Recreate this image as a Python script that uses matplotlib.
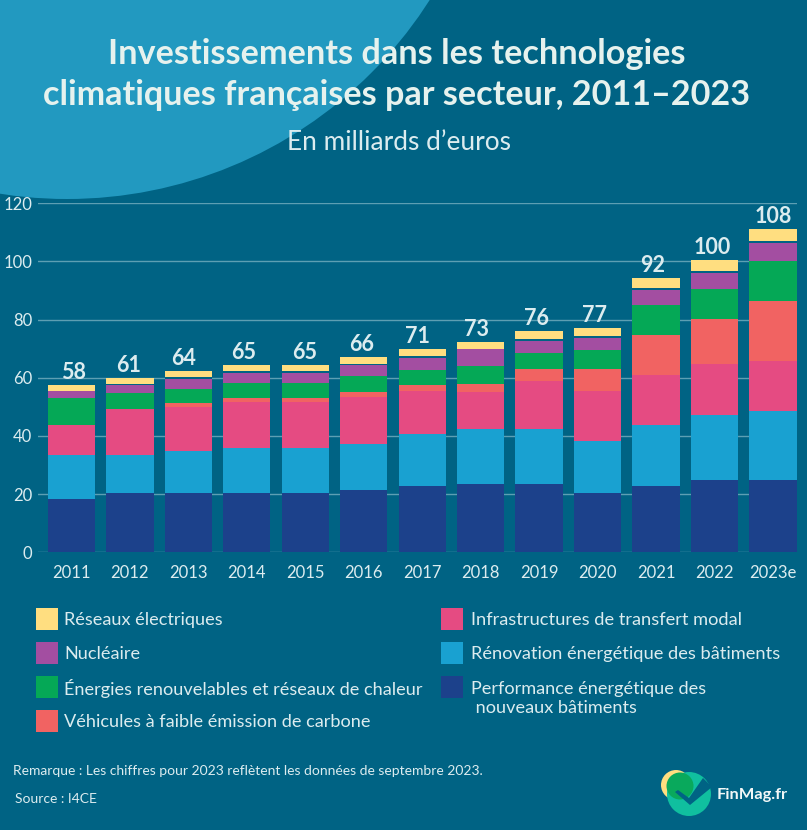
#!/usr/bin/python3
# filename plot.py
import matplotlib
matplotlib.use('Agg')
import matplotlib.pyplot as plt
from matplotlib.patches import Circle, Rectangle, Polygon
import numpy as np

plt.rcParams['font.family'] = ['Lato', 'DejaVu Sans']

annees = ['2011', '2012', '2013', '2014', '2015', '2016', '2017', '2018', '2019', '2020', '2021', '2022', '2023e']
totaux = [58, 61, 64, 65, 65, 66, 71, 73, 76, 77, 92, 100, 108]

# Valeurs en milliards d'euros
performance = [18.3, 20.5, 20.5, 20.5, 20.5, 21.5, 22.9, 23.6, 23.6, 20.5, 22.9, 25.0, 25.0]
renovation = [15.2, 13.0, 14.2, 15.5, 15.5, 15.9, 17.9, 18.7, 18.7, 17.8, 20.7, 22.1, 23.5]
transfert = [10.2, 15.8, 15.3, 15.8, 15.8, 16.1, 14.7, 12.9, 16.5, 17.2, 17.5, 17.8, 17.3]
vehicules = [0.0, 0.0, 1.2, 1.2, 1.2, 1.7, 1.9, 2.8, 4.1, 7.4, 13.5, 15.4, 20.7]
renouvelables = [9.3, 5.4, 5.0, 5.1, 5.1, 5.4, 5.4, 6.2, 5.5, 6.6, 10.3, 10.1, 13.7]
nucleaire = [2.4, 2.8, 3.4, 3.7, 3.7, 3.8, 4.1, 5.6, 4.4, 4.3, 5.3, 5.6, 6.3]
ecart = [0.0, 0.4, 0.7, 0.4, 0.4, 0.4, 0.6, 0.1, 0.6, 0.5, 0.7, 0.8, 0.7]
reseaux = [2.0, 2.0, 2.0, 2.3, 2.3, 2.4, 2.4, 2.5, 2.6, 2.7, 3.3, 3.6, 3.8]

fond = '#006384'
texte = '#dcecef'
c_perf = '#1c418b'
c_reno = '#19a1d1'
c_transfert = '#e54b82'
c_vehicules = '#f16362'
c_renouv = '#05a856'
c_nucleaire = '#a34ea1'
c_reseaux = '#ffde80'

W, H = 807, 830
fig = plt.figure(figsize=(W / 100, H / 100), dpi=100, facecolor=fond)

# calque en pixels pour le fond, la legende et le logo
bg = fig.add_axes([0, 0, 1, 1], zorder=0)
bg.set_xlim(0, W)
bg.set_ylim(H, 0)
bg.axis('off')
bg.add_patch(Circle((67, -231), 430, color='#2299c0', lw=0))

# axes : y=0 a 552.3 px, y=120 a 203.3 px, de x=37.7 a 797
ax = fig.add_axes([37.7 / W, 1 - 552.3 / H, (797 - 37.7) / W, 349 / H], zorder=1)
ax.patch.set_alpha(0)
x = np.arange(len(annees))
ax.set_xlim(-0.576, 12.41)
ax.set_ylim(0, 120)

series = [(performance, c_perf), (renovation, c_reno), (transfert, c_transfert), (vehicules, c_vehicules),
          (renouvelables, c_renouv), (nucleaire, c_nucleaire), (ecart, fond), (reseaux, c_reseaux)]
bas = np.zeros(len(annees))
for valeurs, couleur in series:
    ax.bar(x, valeurs, width=0.81, bottom=bas, color=couleur, linewidth=0, zorder=3)
    bas = bas + np.array(valeurs)

# total au-dessus de chaque barre
dx_totaux = [2, -1, -5, -3, -1, -2, -5, -4, -3, -3, -3, -2, 0]
for i in range(len(annees)):
    ax.annotate(str(totaux[i]), (x[i], bas[i]), xytext=(dx_totaux[i], 2), textcoords='offset pixels',
                ha='center', va='bottom', fontsize=15.5, fontweight='bold', color=texte, zorder=4)

ax.set_yticks(range(0, 121, 20))
ax.grid(axis='y', color='#5d9fb3', linewidth=1, zorder=1)
ax.set_axisbelow(True)
for s in ax.spines.values():
    s.set_visible(False)
ax.tick_params(axis='both', length=0, labelsize=12, labelcolor=texte)
ax.tick_params(axis='y', pad=4)
ax.set_xticks(x)
ax.set_xticklabels(annees)
ax.tick_params(axis='x', pad=9)

# titre
fig.text(397 / W, 1 - 54 / H, 'Investissements dans les technologies', ha='center', va='center',
         fontsize=24.7, fontweight='bold', color='#e6f2ee')
fig.text(397 / W, 1 - 95 / H, 'climatiques françaises par secteur, 2011–2023', ha='center', va='center',
         fontsize=24.6, fontweight='bold', color='#e6f2ee')
fig.text(399 / W, 1 - 142 / H, 'En milliards d’euros', ha='center', va='center', fontsize=18.9, color=texte)

# legende
legende_g = [('Réseaux électriques', c_reseaux, 619), ('Nucléaire', c_nucleaire, 653),
             ('Énergies renouvelables et réseaux de chaleur', c_renouv, 687),
             ('Véhicules à faible émission de carbone', c_vehicules, 721)]
legende_d = [('Infrastructures de transfert modal', c_transfert, 619),
             ('Rénovation énergétique des bâtiments', c_reno, 653),
             ('Performance énergétique des\n nouveaux bâtiments', c_perf, 687)]
for nom, couleur, y in legende_g:
    bg.add_patch(Rectangle((36, y - 11), 22, 22, color=couleur, lw=0))
    bg.text(64, y + 1, nom, va='center', fontsize=13.05, color=texte)
for nom, couleur, y in legende_d:
    bg.add_patch(Rectangle((441, y - 11), 22, 22, color=couleur, lw=0))
    if '\n' in nom:
        bg.text(471, y + 11.5, nom, va='center', fontsize=13.1, color=texte, linespacing=1.27)
    else:
        bg.text(471, y + 1, nom, va='center', fontsize=13.15, color=texte)

bg.text(13, 771, 'Remarque : Les chiffres pour 2023 reflètent les données de septembre 2023.', va='center',
        fontsize=10, color=texte)
bg.text(15, 799, 'Source : I4CE', va='center', fontsize=10, color=texte)

# logo
bg.add_patch(Circle((676, 785), 15, color='#ffde80', lw=0, zorder=2))
bg.add_patch(Circle((689, 794), 22, color='#10bf9f', lw=0, zorder=3))
bg.add_patch(Circle((680, 786), 13.5, color='#09a95c', lw=0, zorder=4))
bg.add_patch(Polygon([(675, 792), (678, 790), (689, 798), (703, 778), (712, 787), (690, 805)], color=fond, lw=0, zorder=5))
bg.text(717, 795, 'FinMag.fr', va='center', fontsize=11.8, fontweight='bold', color='#f2f7f7', zorder=6)

fig.savefig('out.png', dpi=100, facecolor=fond)
